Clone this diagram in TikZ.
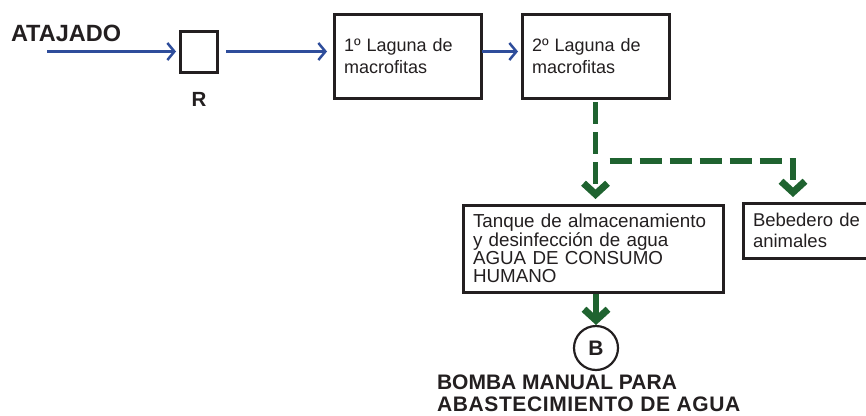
\documentclass[tikz,border=0pt]{standalone}
\usepackage{fontspec}
\setmainfont{Liberation Sans}
\usetikzlibrary{arrows.meta,calc}
\definecolor{ink}{RGB}{35,31,32}
\definecolor{flowblue}{RGB}{46,77,155}
\definecolor{flowgreen}{RGB}{31,99,48}
\begin{document}
\begin{tikzpicture}[x=1pt,y=-1pt,
  box/.style={draw=ink, line width=3pt, anchor=north west, outer sep=0pt, inner xsep=10pt, inner ysep=0pt, align=left, text=ink},
  blueflow/.style={draw=flowblue, line width=2.5pt, -{Straight Barb[length=7pt,width=17pt]}},
  greenflow/.style={draw=flowgreen, line width=5.5pt, dash pattern=on 22pt off 8pt, -{Straight Barb[length=11pt,width=24pt,line width=1.5pt 1]}},
  boldlabel/.style={text=ink, font=\bfseries\fontsize{21pt}{22pt}\selectfont, inner sep=0pt, outer sep=0pt}]

\clip (0,0) rectangle (866,415);

\node[boldlabel, anchor=base west, font=\bfseries\fontsize{23.5pt}{24pt}\selectfont] (atajado) at (11,41) {ATAJADO};
\coordinate (src) at (47,52);
\node[draw=ink, line width=3pt, anchor=north west, outer sep=0pt, minimum width=37pt, minimum height=41pt, inner sep=0pt] (rbox) at (180,31) {};
\node[boldlabel, anchor=base, font=\bfseries\fontsize{20.5pt}{22pt}\selectfont] (rlabel) at (199,106) {R};

\node[box, text width=127pt, minimum height=84pt, font=\fontsize{18pt}{22pt}\selectfont] (lag1) at (334,14) {1º Laguna de\\macrofitas};
\node[box, text width=127pt, minimum height=84pt, font=\fontsize{18pt}{22pt}\selectfont] (lag2) at (522,14) {2º Laguna de\\macrofitas};
\node[box, text width=240pt, minimum height=87pt, font=\fontsize{18.8pt}{18.3pt}\selectfont] (tanque) at (463,205) {Tanque de almacenamiento\\y desinfección de agua\\AGUA DE CONSUMO\\HUMANO};
\node[box, text width=117pt, minimum height=55pt, font=\fontsize{18.5pt}{21pt}\selectfont] (beb) at (743,203) {Bebedero de\\animales};

\node[draw=ink, line width=2.2pt, circle, minimum size=44pt, inner sep=0pt, outer sep=0pt, text=ink, font=\bfseries\fontsize{21pt}{22pt}\selectfont] (bomb) at (596,348) {B};
\node[boldlabel, anchor=north west, align=left] (bomblabel) at (437,374.9) {BOMBA MANUAL PARA\\{\addfontfeature{LetterSpace=3}ABASTECIMIENTO DE AGUA}};

\draw[blueflow, shorten >=4pt] (src |- rbox.west) -- (rbox.west);
\draw[blueflow, shorten <=9pt, shorten >=7pt] (rbox.east) -- (rbox.east -| lag1.west);
\draw[blueflow, shorten <=1pt, shorten >=4pt] (lag1.east |- rbox.east) -- (lag2.west |- rbox.east);

\coordinate (brk) at (793,161);
\coordinate (split) at (lag2.south |- brk);
\draw[greenflow, shorten <=4pt, shorten >=6pt] (lag2.south) -- (lag2.south |- tanque.north);
\draw[greenflow, shorten <=14pt, shorten >=6pt] (split) -- (brk) -- (brk |- beb.north);
\draw[greenflow, shorten <=2pt, shorten >=1pt] (bomb.north |- tanque.south) -- (bomb.north);
\end{tikzpicture}
\end{document}
